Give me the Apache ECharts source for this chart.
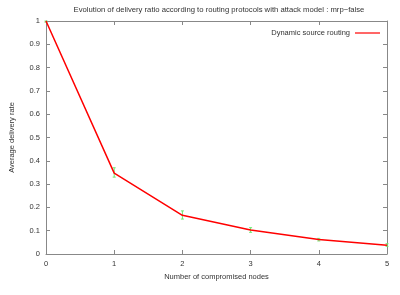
<!DOCTYPE html>
<html><head><meta charset="utf-8">
<script src="https://cdn.jsdelivr.net/npm/echarts@6/dist/echarts.min.js"></script>
<style>html,body{margin:0;padding:0;background:#fff}#c{width:400px;height:295px}</style>
</head><body><div id="c"></div>
<script>
const nodes = [0, 1, 2, 3, 4, 5];
const deliveryRate = [1.0, 0.347, 0.166, 0.103, 0.062, 0.038];
const errLow = [0.995, 0.33, 0.15, 0.093, 0.056, 0.033];
const errHigh = [1.0, 0.37, 0.185, 0.113, 0.067, 0.044];
const yTicks = [0, 0.1, 0.2, 0.3, 0.4, 0.5, 0.6, 0.7, 0.8, 0.9, 1];
const titleText = 'Evolution of delivery ratio according to routing protocols with attack model : mrp\u2212false';
const seriesName = 'Dynamic source routing';

const font = 'Liberation Sans, Arial, sans-serif';
const txt = '#333';
const axisCol = '#888';

const chart = echarts.init(document.getElementById('c'), null, {renderer: 'canvas'});
const lineData = nodes.map((x, i) => [x, deliveryRate[i]]);
const errData = nodes.map((x, i) => [x, errLow[i], errHigh[i]]);

const axisCommon = {
  type: 'value', min: 0, max: 5, interval: 1,
  axisLine: {show: true, onZero: false, lineStyle: {color: axisCol, width: 1}},
  axisTick: {show: true, inside: true, length: 4, lineStyle: {color: axisCol}},
  splitLine: {show: false}
};
const yCommon = {
  type: 'value', min: 0, max: 1, interval: 0.1,
  axisLine: {show: true, onZero: false, lineStyle: {color: axisCol, width: 1}},
  axisTick: {show: true, inside: true, length: 4, lineStyle: {color: axisCol}},
  splitLine: {show: false}
};

chart.setOption({
  animation: false,
  backgroundColor: '#fff',
  title: {
    text: titleText, left: 214, textAlign: 'center', top: 1,
    textStyle: {fontFamily: font, fontSize: 7.7, fontWeight: 'normal', color: txt}
  },
  legend: {
    data: [{name: seriesName, icon: 'rect'}], right: 15, top: 24, align: 'right',
    itemWidth: 25, itemHeight: 1.2, itemGap: 4,
    textStyle: {fontFamily: font, fontSize: 7.5, color: txt}
  },
  grid: {left: 41, right: 13, top: 21, bottom: 41, containLabel: false},
  xAxis: [
    Object.assign({}, axisCommon, {
      position: 'bottom',
      name: 'Number of compromised nodes', nameLocation: 'middle', nameGap: 17,
      nameTextStyle: {fontFamily: font, fontSize: 7.5, color: txt},
      axisLabel: {fontFamily: font, fontSize: 7.5, color: txt, margin: 6,
        formatter: v => String(nodes.includes(v) ? v : '')}
    }),
    Object.assign({}, axisCommon, {position: 'top', axisLabel: {show: false}})
  ],
  yAxis: [
    Object.assign({}, yCommon, {
      position: 'left',
      name: 'Average delivery rate', nameLocation: 'middle', nameGap: 30, nameRotate: 90,
      nameTextStyle: {fontFamily: font, fontSize: 7.5, color: txt},
      axisLabel: {fontFamily: font, fontSize: 7.5, color: txt, margin: 6,
        formatter: v => { const t = yTicks.find(k => Math.abs(k - v) < 1e-6); return t === undefined ? '' : String(t); }}
    }),
    Object.assign({}, yCommon, {position: 'right', axisLabel: {show: false}})
  ],
  series: [
    {
      type: 'custom', name: 'err', xAxisIndex: 0, yAxisIndex: 0, z: 1,
      data: errData, silent: true,
      renderItem: function (params, api) {
        const x = api.value(0);
        const lo = api.coord([x, api.value(1)]);
        const hi = api.coord([x, api.value(2)]);
        const cap = 1.5;
        const st = {stroke: '#70e870', lineWidth: 1};
        return {type: 'group', children: [
          {type: 'line', shape: {x1: lo[0], y1: lo[1], x2: hi[0], y2: hi[1]}, style: st},
          {type: 'line', shape: {x1: lo[0] - cap, y1: lo[1], x2: lo[0] + cap, y2: lo[1]}, style: st},
          {type: 'line', shape: {x1: hi[0] - cap, y1: hi[1], x2: hi[0] + cap, y2: hi[1]}, style: st}
        ]};
      }
    },
    {
      type: 'line', name: seriesName, xAxisIndex: 0, yAxisIndex: 0, z: 2,
      data: lineData, symbol: 'none', smooth: false,
      lineStyle: {color: '#ff0000', width: 1.5},
      itemStyle: {color: '#ff0000'}
    }
  ]
});
</script>
</body></html>
